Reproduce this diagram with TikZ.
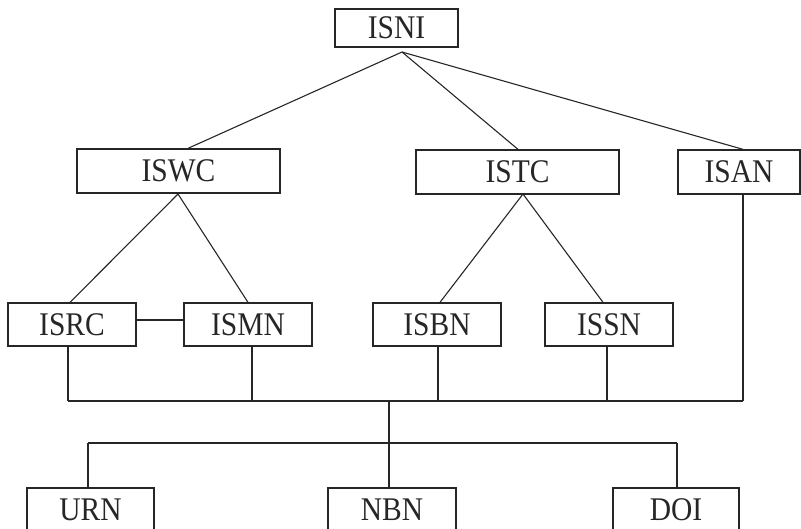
\documentclass[tikz,border=0pt]{standalone}
\usepackage{fontspec}
\setmainfont{Liberation Serif}
\newcommand{\tallt}[1]{\scalebox{1}[1.12]{#1}}
\begin{document}
\begin{tikzpicture}[x=1pt,y=-1pt,
  idbox/.style={draw=black!85,line width=1.3pt,inner sep=0pt,font=\fontsize{29.5}{30}\selectfont,text=black!85},
  link/.style={draw=black!85,line width=1.1pt}]
\useasboundingbox (0,0) rectangle (801,528);
% boxes
\node[idbox,minimum width=123,minimum height=38] (isni) at (396.5,28) {\tallt{ISNI}};
\node[idbox,minimum width=203,minimum height=44] (iswc) at (178.5,171) {\tallt{ISWC}};
\node[idbox,minimum width=203,minimum height=44] (istc) at (517.5,172) {\tallt{ISTC}};
\node[idbox,minimum width=122,minimum height=44] (isan) at (739,172) {\tallt{ISAN}};
\node[idbox,minimum width=128,minimum height=43] (isrc) at (72,324.5) {\tallt{ISRC}};
\node[idbox,minimum width=128,minimum height=43] (ismn) at (248,324.5) {\tallt{ISMN}};
\node[idbox,minimum width=128,minimum height=43] (isbn) at (437,324.5) {\tallt{ISBN}};
\node[idbox,minimum width=128,minimum height=43] (issn) at (609,324.5) {\tallt{ISSN}};
\node[idbox,minimum width=127,minimum height=44] (urn) at (90.5,510) {\tallt{URN}};
\node[idbox,minimum width=128,minimum height=44] (nbn) at (392,510) {\tallt{NBN}};
\node[idbox,minimum width=126,minimum height=44] (doi) at (676,510) {\tallt{DOI}};
% junction points
\coordinate (isniA) at (402,52);
\coordinate (iswcA) at (178,194);
\coordinate (istcA) at (523,194);
\coordinate (busL) at (68,401);
\coordinate (busR) at (743,401);
\coordinate (busM) at (389,401);
\coordinate (lowM) at (389,443);
\coordinate (lowL) at (88,443);
\coordinate (lowR) at (677,443);
% tree from ISNI
\draw[link] (isniA) -- ([xshift=9.5]iswc.north);
\draw[link] (isniA) -- ([xshift=0.5]istc.north);
\draw[link] (isniA) -- ([xshift=4]isan.north);
% ISWC branch
\draw[link] (iswcA) -- ([xshift=-2]isrc.north);
\draw[link] (iswcA) -- (ismn.north);
% ISTC branch
\draw[link] (istcA) -- ([xshift=3]isbn.north);
\draw[link] (istcA) -- ([xshift=-6]issn.north);
% ISRC - ISMN
\draw[link] ([yshift=4.5]isrc.east) -- ([yshift=4.5]ismn.west);
% drops to bus
\draw[link] ([xshift=-4]isrc.south) -- (busL);
\draw[link] ([xshift=4]ismn.south) -- ([xshift=4]ismn.south |- busL);
\draw[link] ([xshift=1]isbn.south) -- ([xshift=1]isbn.south |- busL);
\draw[link] ([xshift=-2]issn.south) -- ([xshift=-2]issn.south |- busL);
\draw[link] ([xshift=4]isan.south) -- (busR);
\draw[link] (busL) -- (busR);
% lower distribution
\draw[link] (busM) -- (busM |- nbn.north);
\draw[link] (lowL) -- (lowR);
\draw[link] (lowL) -- (lowL |- urn.north);
\draw[link] (lowR) -- (lowR |- doi.north);
\end{tikzpicture}
\end{document}
